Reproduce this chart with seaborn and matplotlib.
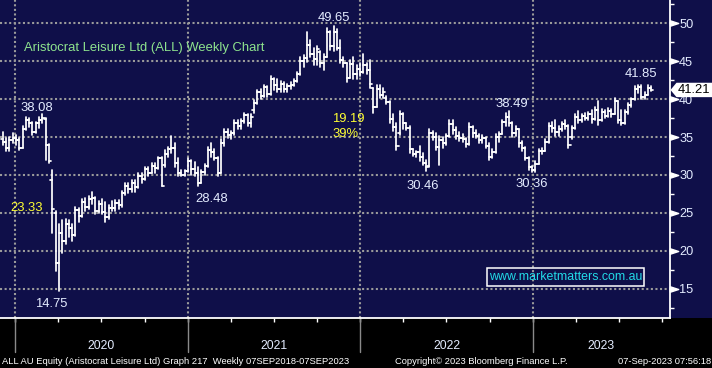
import numpy as np
import pandas as pd
import matplotlib
matplotlib.use("Agg")
import matplotlib.pyplot as plt
import matplotlib.dates as mdates
import matplotlib.transforms as mtransforms
from matplotlib.patches import Polygon, Rectangle
from matplotlib.path import Path
from matplotlib import font_manager
import seaborn as sns

# ---------------- data (weekly bars, Fridays) ----------------
week_end = pd.date_range("2019-12-06", periods=197, freq="7D")

opens = [34.8, 34.4, 33.6, 34.6, 34.9, 34.6, 33.6, 36.1, 37.3, 36.8,
         35.6, 36.8, 37.2, 37.4, 33.9, 29.4, 25.0, 18.4, 22.4, 21.3,
         23.6, 23.0, 22.1, 25.4, 24.6, 26.4, 25.8, 26.8, 26.9, 25.2,
         26.2, 25.1, 24.4, 25.7, 25.6, 26.3, 26.0, 27.6, 28.6, 28.1,
         29.0, 28.4, 29.8, 29.5, 30.8, 30.3, 31.2, 30.9, 32.2, 31.3,
         32.8, 33.4, 33.6, 31.6, 30.2, 30.0, 30.5, 31.8, 30.8, 30.2,
         29.0, 30.4, 31.2, 33.3, 33.0, 32.3, 30.3, 34.2, 35.6, 35.3,
         35.5, 36.8, 36.4, 37.1, 37.9, 36.9, 38.6, 39.5, 40.9, 40.4,
         41.6, 40.7, 42.6, 41.8, 41.4, 42.0, 41.3, 41.7, 41.9, 42.4,
         43.3, 45.0, 45.4, 47.2, 46.0, 45.3, 46.2, 44.8, 45.6, 48.8,
         47.0, 48.9, 46.8, 45.2, 44.7, 42.8, 44.6, 43.3, 44.0, 43.6,
         44.5, 43.8, 41.5, 39.0, 41.4, 40.5, 40.2, 39.6, 37.4, 36.3,
         35.5, 38.0, 36.8, 36.2, 33.4, 32.8, 33.0, 32.4, 31.6, 31.2,
         35.5, 35.0, 33.7, 34.6, 34.2, 35.1, 36.7, 35.9, 35.2, 34.9,
         34.7, 34.1, 36.3, 35.5, 35.2, 34.6, 34.9, 33.8, 32.4, 33.0,
         35.0, 35.4, 37.0, 37.6, 36.8, 35.5, 36.0, 34.2, 33.5, 32.3,
         31.0, 30.6, 31.5, 33.1, 33.2, 34.4, 36.5, 36.2, 35.6, 36.1,
         36.7, 36.4, 35.0, 36.2, 37.6, 37.3, 37.8, 37.5, 38.0, 37.4,
         38.6, 37.2, 38.3, 37.8, 38.4, 38.1, 39.7, 37.2, 36.8, 38.3,
         39.2, 40.0, 41.4, 41.6, 40.3, 40.6, 41.5]

highs = [35.6, 34.9, 35.0, 35.5, 35.3, 34.9, 36.4, 37.6, 37.5, 37.0,
         37.0, 37.6, 38.08, 37.5, 34.1, 30.7, 25.3, 23.5, 24.0, 24.2,
         24.0, 23.6, 25.8, 25.7, 26.8, 27.0, 27.2, 27.7, 27.1, 26.6,
         26.8, 26.4, 26.0, 26.6, 26.7, 26.7, 27.9, 29.0, 28.9, 29.4,
         29.3, 30.3, 30.2, 31.1, 31.0, 31.6, 31.6, 32.4, 32.4, 33.3,
         33.7, 35.1, 34.2, 32.2, 30.6, 30.7, 32.3, 32.0, 31.7, 31.1,
         30.7, 31.5, 33.7, 34.2, 33.4, 32.4, 34.7, 36.0, 36.0, 35.8,
         37.3, 37.3, 37.4, 38.2, 38.0, 38.0, 39.9, 41.2, 41.3, 41.9,
         41.7, 43.0, 42.8, 42.6, 42.4, 42.2, 42.0, 42.3, 42.6, 43.6,
         45.5, 45.8, 48.9, 47.8, 46.7, 47.0, 46.4, 46.0, 49.4, 49.0,
         49.65, 49.2, 47.8, 45.6, 44.8, 45.1, 45.6, 44.5, 44.8, 45.9,
         44.8, 45.2, 41.5, 41.9, 41.9, 41.5, 40.4, 39.7, 38.0, 36.9,
         38.4, 38.2, 36.9, 36.4, 33.4, 33.2, 33.8, 32.9, 32.0, 36.0,
         35.8, 35.5, 35.2, 35.0, 35.4, 37.3, 37.2, 36.3, 35.6, 35.4,
         34.9, 36.9, 36.5, 35.9, 35.4, 35.3, 35.0, 34.2, 33.4, 35.4,
         35.6, 37.3, 38.2, 38.49, 37.0, 36.4, 36.1, 34.5, 33.7, 32.4,
         31.2, 31.9, 33.4, 33.6, 34.7, 36.9, 37.0, 37.2, 36.4, 37.0,
         37.2, 36.6, 36.5, 38.0, 38.4, 38.0, 38.2, 38.3, 38.6, 39.0,
         39.7, 38.7, 38.6, 38.8, 38.7, 40.1, 39.8, 38.6, 38.6, 39.5,
         40.2, 41.7, 41.9, 41.8, 41.0, 41.85, 41.7]

lows = [33.9, 33.1, 33.2, 34.2, 34.0, 33.3, 33.5, 35.9, 36.3, 35.3,
        35.5, 36.2, 36.8, 32.0, 31.6, 22.4, 17.4, 14.75, 19.7, 20.9,
        21.8, 21.3, 22.0, 23.8, 24.5, 25.3, 25.5, 26.2, 24.8, 25.0,
        24.8, 23.8, 24.2, 25.2, 25.3, 25.5, 25.8, 27.4, 27.6, 27.7,
        27.8, 28.3, 29.0, 29.4, 29.8, 30.2, 30.3, 30.8, 28.5, 31.1,
        32.4, 32.9, 31.1, 29.8, 29.8, 29.8, 30.4, 30.0, 29.8, 28.48,
        28.9, 30.0, 31.0, 32.4, 32.0, 29.8, 30.2, 33.8, 34.9, 34.8,
        35.3, 36.0, 36.0, 36.9, 36.4, 36.3, 38.2, 39.4, 40.0, 40.3,
        40.3, 40.6, 41.2, 41.0, 41.0, 41.0, 40.9, 41.3, 41.7, 42.2,
        43.2, 44.3, 44.9, 45.6, 44.5, 44.5, 44.3, 43.9, 45.5, 46.5,
        46.3, 46.5, 44.8, 44.3, 42.3, 42.8, 42.6, 42.6, 43.0, 43.4,
        43.3, 41.5, 38.2, 38.9, 40.2, 40.1, 39.3, 36.9, 35.8, 33.3,
        35.3, 36.0, 35.9, 32.9, 32.5, 32.4, 31.9, 31.3, 30.46, 31.1,
        34.6, 33.3, 31.3, 33.6, 33.9, 35.0, 35.4, 34.8, 34.5, 34.4,
        33.7, 34.0, 35.0, 34.9, 34.2, 34.2, 33.5, 32.0, 32.3, 32.9,
        34.3, 35.4, 36.4, 36.4, 35.0, 35.2, 33.7, 33.2, 32.0, 30.7,
        30.36, 30.4, 31.4, 32.8, 33.2, 34.2, 35.7, 35.2, 35.1, 35.8,
        36.0, 33.6, 34.8, 36.1, 36.9, 37.0, 37.2, 37.3, 36.9, 37.3,
        36.6, 37.1, 37.5, 37.6, 37.7, 38.0, 36.9, 36.6, 36.7, 38.0,
        38.9, 39.9, 40.8, 40.0, 40.0, 40.5, 41.1]

closes = [34.4, 33.6, 34.6, 34.9, 34.6, 33.6, 36.1, 37.3, 36.8, 35.6,
          36.8, 37.2, 37.5, 33.9, 31.8, 25.5, 18.4, 22.4, 21.3, 23.6,
          23.0, 22.1, 25.4, 24.6, 26.4, 25.8, 26.8, 26.9, 25.2, 26.2,
          25.1, 24.4, 25.7, 25.6, 26.3, 26.0, 27.6, 28.6, 28.1, 29.0,
          28.4, 29.8, 29.5, 30.8, 30.3, 31.2, 30.9, 32.2, 28.6, 32.8,
          33.4, 33.6, 31.6, 30.2, 30.0, 30.5, 31.8, 30.8, 30.2, 29.0,
          30.4, 31.2, 33.3, 33.0, 32.3, 30.3, 34.2, 35.6, 35.3, 35.5,
          36.8, 36.4, 37.1, 37.9, 36.9, 37.6, 39.5, 40.9, 40.4, 41.6,
          40.7, 42.6, 41.8, 41.4, 42.0, 41.3, 41.7, 41.9, 42.4, 43.3,
          45.0, 45.4, 47.2, 46.0, 45.3, 46.6, 44.8, 45.6, 48.8, 47.0,
          48.9, 46.8, 45.2, 44.7, 42.8, 44.6, 43.3, 44.0, 43.6, 44.5,
          43.8, 42.0, 39.0, 41.4, 40.5, 41.0, 39.6, 37.4, 36.3, 33.8,
          38.0, 36.8, 36.2, 33.4, 32.8, 33.0, 32.4, 31.6, 31.0, 35.5,
          35.0, 33.7, 34.6, 34.2, 35.1, 36.7, 35.9, 35.2, 34.9, 34.7,
          34.1, 36.3, 35.5, 35.2, 34.6, 34.9, 33.8, 32.4, 33.0, 35.0,
          35.4, 37.0, 37.6, 36.8, 35.5, 36.0, 34.2, 33.5, 32.3, 31.0,
          30.6, 31.5, 33.1, 33.2, 34.4, 36.5, 36.2, 35.6, 36.1, 36.7,
          36.4, 34.0, 36.2, 37.6, 37.3, 37.8, 37.5, 38.0, 37.4, 38.6,
          37.2, 38.3, 37.8, 38.4, 38.1, 39.7, 37.2, 36.8, 38.3, 39.2,
          40.0, 41.4, 41.6, 40.3, 40.6, 41.5, 41.21]

peak_idx = [12, 100, 153, 195]      # labelled highs
trough_idx = [17, 59, 128, 160]     # labelled lows
y_ticks = [15, 20, 25, 30, 35, 40, 45, 50]
year_labels = ["2020", "2021", "2022", "2023"]

title_text = "Aristocrat Leisure Ltd (ALL) Weekly Chart"
site_text = "www.marketmatters.com.au"
footer_left = "ALL AU Equity (Aristocrat Leisure Ltd) Graph 217  Weekly 07SEP2018-07SEP2023"
footer_mid = "Copyright\u00a9 2023 Bloomberg Finance L.P."
footer_right = "07-Sep-2023 07:56:18"

# ---------------- style ----------------
NAVY = "#0f0f49"
GRID = "#9a9a9a"
LBL = "#e4ecff"
YEL = "#ffff33"
GREEN = "#8ee38e"
CYAN = "#22dbe8"

sns.set_style("dark", {"axes.facecolor": NAVY, "figure.facecolor": "black"})
names = {f.name for f in font_manager.fontManager.ttflist}
plt.rcParams["font.family"] = ["Liberation Sans", "DejaVu Sans"]
narrow = "Liberation Sans Narrow" if "Liberation Sans Narrow" in names else "Liberation Sans"

W, H = 712, 368
AX_W, AX_H, AX_B = 669.5, 318.0, 50.0
fig = plt.figure(figsize=(W / 100, H / 100), dpi=100, facecolor="black")
ax = fig.add_axes([0, AX_B / H, AX_W / W, AX_H / H])
ax.set_facecolor(NAVY)
fig.add_artist(Rectangle((AX_W / W, AX_B / H), 1 - AX_W / W, AX_H / H,
                         transform=fig.transFigure, facecolor=NAVY,
                         edgecolor="none", zorder=-5))

# ---------------- OHLC bars via seaborn ----------------
xs = mdates.date2num(week_end.to_pydatetime())
tick_days = 4.5
rows = []
for i in range(len(xs)):
    rows += [(xs[i], lows[i], f"hl{i}"), (xs[i], highs[i], f"hl{i}")]
    rows += [(xs[i] - tick_days, opens[i], f"o{i}"), (xs[i], opens[i], f"o{i}")]
    rows += [(xs[i], closes[i], f"c{i}"), (xs[i] + tick_days, closes[i], f"c{i}")]
bars = pd.DataFrame(rows, columns=["x", "price", "seg"])
sns.lineplot(data=bars, x="x", y="price", units="seg", estimator=None,
             sort=False, color="white", lw=1.25, legend=False, ax=ax, zorder=3)
ax.set_xlabel("")
ax.set_ylabel("")

# ---------------- scales ----------------
px_per_day = 518.0 / 1096.0
jan2020 = mdates.date2num(pd.Timestamp("2020-01-01").to_pydatetime())
x0 = jan2020 - 15.0 / px_per_day
x1 = x0 + AX_W / px_per_day
ax.set_xlim(x0, x1)
ax.set_ylim(11.14, 53.07)

for s in ["top", "left"]:
    ax.spines[s].set_visible(False)
for s in ["right", "bottom"]:
    ax.spines[s].set_visible(True)
    ax.spines[s].set_color("white")
    ax.spines[s].set_linewidth(1.3)

# y axis on the right
ax.yaxis.tick_right()
ax.set_yticks(y_ticks)
ax.set_yticks(np.arange(12.5, 53, 5), minor=True)
ax.tick_params(axis="y", which="major", length=0, pad=7, labelsize=9.2,
               labelcolor=LBL, left=False, right=True)
ax.tick_params(axis="y", which="minor", length=2.6, width=1.0, color="white",
               direction="out", left=False, right=True)
ax.yaxis.grid(True, which="major", color=GRID, lw=1.5, ls=(0, (1, 1.2)))
tri = Path([(-1, -0.65), (1, 0), (-1, 0.65), (-1, -0.65)],
           [Path.MOVETO, Path.LINETO, Path.LINETO, Path.CLOSEPOLY])
ax.plot([1.0 + 4.5 / AX_W] * len(y_ticks), y_ticks, ls="none", marker=tri, ms=6,
        color="white", mec="white",
        transform=mtransforms.blended_transform_factory(ax.transAxes, ax.transData),
        clip_on=False, zorder=5)

# x axis: quarterly ticks, year separators, year labels
quarters = pd.date_range("2019-10-01", "2024-01-01", freq="QS")
qn = [q for q in mdates.date2num(quarters.to_pydatetime()) if x0 <= q <= x1]
ax.set_xticks(qn)
ax.set_xticklabels([])
ax.tick_params(axis="x", which="major", length=3.2, width=1.0, color="white",
               direction="out", bottom=True)
ax.xaxis.grid(False)
bl = mtransforms.blended_transform_factory(ax.transData, ax.transAxes)
for k, lab in enumerate(year_labels):
    ys = mdates.date2num(pd.Timestamp(f"{lab}-01-01").to_pydatetime())
    ye = mdates.date2num(pd.Timestamp(f"{int(lab) + 1}-01-01").to_pydatetime())
    ax.axvline(ys, color=GRID, lw=1.5, ls=(0, (1, 1.2)), zorder=1)
    ax.plot([ys, ys], [0, -34.0 / AX_H], transform=bl, color="#8a8a8a", lw=1.0,
            clip_on=False)
    mid = (max(ys, x0) + min(ye, x1)) / 2
    ax.annotate(lab, xy=(mid, 0), xycoords=bl, xytext=(0, -31),
                textcoords="offset pixels", ha="center", va="baseline",
                fontsize=8.8, color=LBL)

# ---------------- annotations ----------------
peak_off = {12: (-6, 3), 100: (0, 5), 153: (3, 4), 195: (-7, 8)}
trough_off = {17: (-8, -16), 59: (14, -15.5), 128: (-3, -18), 160: (0, -15)}
for i in peak_idx:
    ax.annotate(f"{highs[i]:.2f}", xy=(xs[i], highs[i]), xytext=peak_off[i],
                textcoords="offset pixels", ha="center", va="baseline",
                fontsize=9.4, color=LBL, zorder=6)
for i in trough_idx:
    ax.annotate(f"{lows[i]:.2f}", xy=(xs[i], lows[i]), xytext=trough_off[i],
                textcoords="offset pixels", ha="center", va="baseline",
                fontsize=9.4, color=LBL, zorder=6)

covid_drop = highs[peak_idx[0]] - lows[trough_idx[0]]
peak_drop = highs[peak_idx[1]] - lows[trough_idx[2]]
peak_pct = peak_drop / highs[peak_idx[1]] * 100

def fpx(x, y_top):
    return (x / W, (H - y_top) / H)

fig.text(*fpx(27, 211), f"{covid_drop:.2f}", ha="center", va="baseline",
         fontsize=9.4, color=YEL)
fig.text(*fpx(332, 121.7), f"{peak_drop:.2f}", ha="left", va="baseline",
         fontsize=9.4, color=YEL)
fig.text(*fpx(332, 137.3), f"{peak_pct:.0f}%", ha="left", va="baseline",
         fontsize=9.4, color=YEL)
fig.text(*fpx(24, 51.5), title_text, ha="left", va="baseline",
         fontsize=9.4, color=GREEN)

# website box
fig.add_artist(Rectangle((487 / W, (H - 286) / H), 157 / W, 18 / H,
                         transform=fig.transFigure, fill=False,
                         edgecolor="white", lw=1.1, zorder=6))
fig.text(*fpx(565.5, 277.5), site_text, ha="center", va="center",
         fontsize=8.9, color=CYAN, zorder=7)

# last price flag on the right axis
last = closes[-1]
hh = 7.2 * (53.07 - 11.14) / AX_H
ft = mtransforms.blended_transform_factory(fig.transFigure, ax.transData)
flag = Polygon([(670.5 / W, last), (676.5 / W, last + hh), (1.0, last + hh),
                (1.0, last - hh), (676.5 / W, last - hh)], closed=True,
               transform=ft, facecolor="white", edgecolor="none",
               clip_on=False, zorder=8)
fig.add_artist(flag)
fig.text(677.5 / W, last, f"{last:.2f}", transform=ft, ha="left", va="center",
         fontsize=9.4, color="black", zorder=9)

# footer: one size, fitted so the left string spans the reference width
renderer = fig.canvas.get_renderer()
probe = fig.text(2 / W, 4.5 / H, footer_left, ha="left", va="baseline",
                 fontsize=7.3, color="white", family=[narrow, "DejaVu Sans"])
foot_size = 7.3 * 348.0 / probe.get_window_extent(renderer).width
probe.set_fontsize(foot_size)
fig.text(395.5 / W, 4.5 / H, footer_mid, ha="left", va="baseline",
         fontsize=foot_size, color="white", family=[narrow, "DejaVu Sans"])
fig.text(711 / W, 4.5 / H, footer_right, ha="right", va="baseline",
         fontsize=foot_size, color="white", family=[narrow, "DejaVu Sans"])

fig.savefig("out.png", dpi=100, facecolor="black")
